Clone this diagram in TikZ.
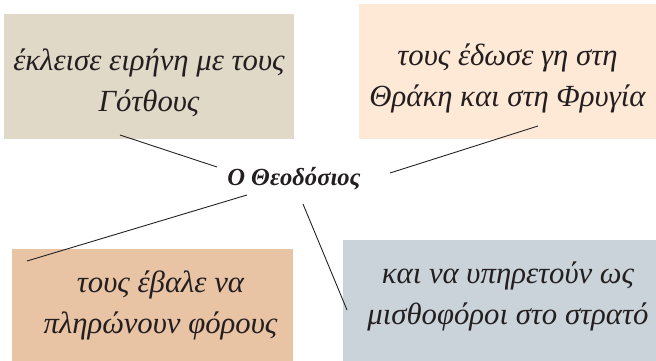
\documentclass[tikz,border=0pt]{standalone}
\usepackage{fontspec}
\setmainfont{Liberation Serif}

\definecolor{peacebeige}{HTML}{E0D9C8}
\definecolor{landpeach}{HTML}{FEE9D6}
\definecolor{taxtan}{HTML}{E8C3A4}
\definecolor{armygrey}{HTML}{CBD3DA}
\definecolor{inkgrey}{HTML}{231F20}

% two centred lines, pushed right (#1) and up (#2)
\newcommand{\ideatext}[4]{\hspace*{#1}\raisebox{#2}[\height][\depth]{\begin{tabular}{@{}c@{}}#3\\#4\end{tabular}}}

\tikzset{
  idea/.style={rectangle, inner sep=0pt, text=inkgrey,
    font=\fontsize{17.5}{23.3}\selectfont\itshape},
  ruler/.style={rectangle, inner sep=1pt, text=inkgrey,
    font=\fontsize{14}{16}\selectfont\bfseries\itshape},
  link/.style={draw=inkgrey, line width=0.5pt}
}

\begin{document}
\begin{tikzpicture}[x=0.02cm, y=-0.02cm]
  \useasboundingbox (0,0) rectangle (656,361);

  % the four boxes
  \node [idea, fill=peacebeige, minimum width=5.8cm, minimum height=2.5cm] (peace) at (149,76.5)
    {\ideatext{0cm}{-0.12cm}{έκλεισε ειρήνη με τους}{Γότθους}};
  \node [idea, fill=landpeach, minimum width=5.94cm, minimum height=2.7cm] (land) at (507.5,71.5)
    {\ideatext{0cm}{-0.12cm}{τους έδωσε γη στη}{Θράκη και στη Φρυγία}};
  \node [idea, fill=taxtan, minimum width=5.62cm, minimum height=2.24cm] (taxes) at (152.5,305)
    {\ideatext{0.32cm}{0cm}{τους έβαλε να}{πληρώνουν φόρους}};
  \node [idea, fill=armygrey, minimum width=6.26cm, minimum height=2.42cm] (army) at (499.5,300.5)
    {\ideatext{0.34cm}{0.1cm}{και να υπηρετούν ως}{μισθοφόροι στο στρατό}};

  % centre
  \node [ruler] (theo) at (294,179) {Ο Θεοδόσιος};

  % line ends
  \coordinate (theo1) at (217,167);
  \coordinate (theo2) at (390,173);
  \coordinate (theo3) at (247,195);
  \coordinate (theo4) at (303,204);
  \coordinate (peace1) at (120,135);
  \coordinate (land1) at (538,126);
  \coordinate (taxes1) at (27,261);
  \coordinate (army1) at (347,310);

  \draw [link] (theo1) -- (peace1);
  \draw [link] (theo2) -- (land1);
  \draw [link] (theo3) -- (taxes1);
  \draw [link] (theo4) -- (army1);
\end{tikzpicture}
\end{document}
